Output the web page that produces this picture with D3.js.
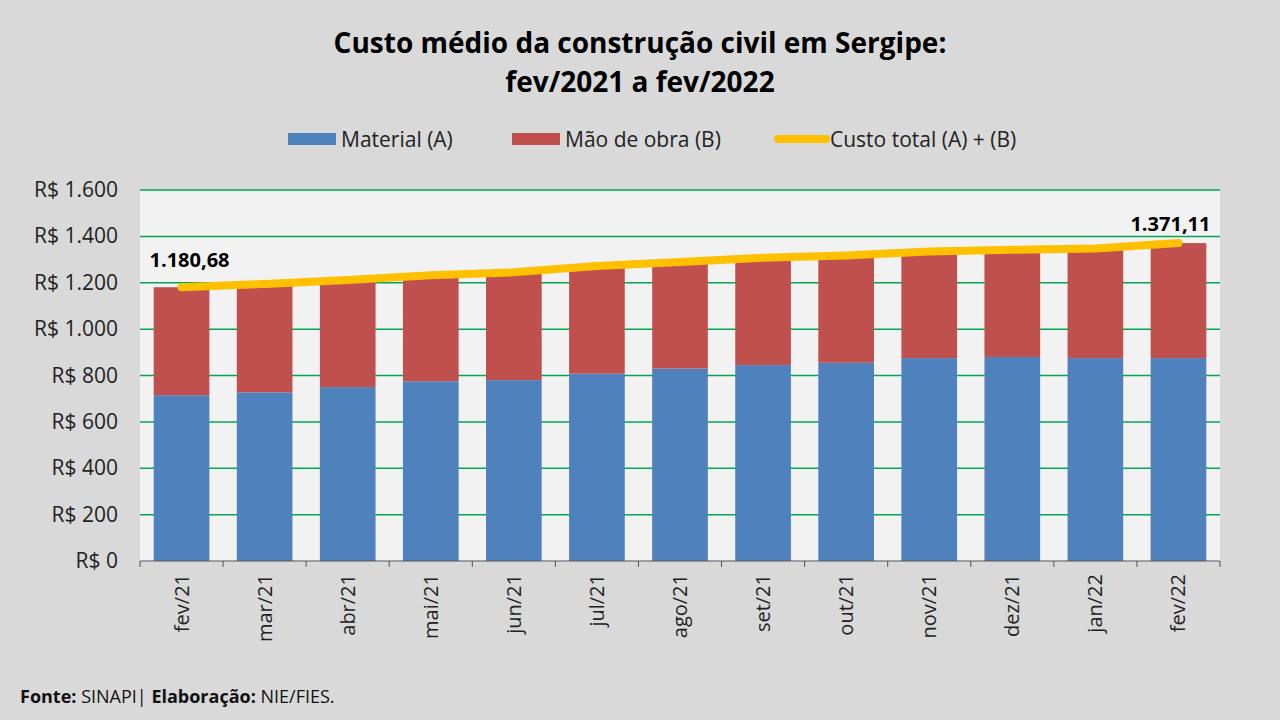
<!DOCTYPE html>
<html><head><meta charset="utf-8">
<script src="https://cdn.jsdelivr.net/npm/d3@7"></script>
<style>body{margin:0;background:#d9d9d9}svg{display:block;font-family:"Open Sans",sans-serif}</style>
</head><body><svg width="1280" height="720"></svg>
<script>
const months = ["fev/21","mar/21","abr/21","mai/21","jun/21","jul/21","ago/21","set/21","out/21","nov/21","dez/21","jan/22","fev/22"];
const material = [715, 727, 750, 775, 780, 808, 830, 845, 855, 875, 880, 875, 875];
const total = [1180.68, 1195, 1212, 1232, 1245, 1272, 1290, 1308, 1318, 1335, 1342, 1348, 1371.11];
const yTicks = [0, 200, 400, 600, 800, 1000, 1200, 1400, 1600];

const svg = d3.select("svg");
const m = {l: 140, r: 1220, t: 190, b: 561};
const x = d3.scaleBand().domain(months).range([m.l, m.r]).paddingInner(0.33).paddingOuter(0.165);
const y = d3.scaleLinear().domain([0, 1600]).range([m.b, m.t]);
const fmt = v => "R$ " + d3.format(",")(v).replace(/,/g, ".");
const fmtDec = v => d3.format(",.2f")(v).replace(/,/g, "#").replace(".", ",").replace(/#/g, ".");

svg.append("rect").attr("width", 1280).attr("height", 720).attr("fill", "#d9d9d9");
svg.append("rect").attr("x", m.l).attr("y", m.t).attr("width", m.r - m.l).attr("height", m.b - m.t).attr("fill", "#f2f2f2");

svg.append("text").attr("x", 640).attr("y", 53).attr("text-anchor", "middle").attr("font-size", 28).attr("font-weight", "bold").text("Custo médio da construção civil em Sergipe:");
svg.append("text").attr("x", 640).attr("y", 92).attr("text-anchor", "middle").attr("font-size", 28).attr("font-weight", "bold").text("fev/2021 a fev/2022");

// grid
svg.append("g").selectAll("line").data(yTicks.slice(1)).enter().append("line")
  .attr("x1", m.l).attr("x2", m.r).attr("y1", d => y(d)).attr("y2", d => y(d))
  .attr("stroke", "#00a650").attr("stroke-width", 1.5);

// y axis labels
svg.append("g").selectAll("text").data(yTicks).enter().append("text")
  .attr("x", 118).attr("y", d => y(d) + 7).attr("text-anchor", "end").attr("font-size", 21).attr("fill", "#222").text(fmt);

// bars
svg.append("g").selectAll("rect").data(months).enter().append("rect")
  .attr("x", d => x(d)).attr("width", x.bandwidth())
  .attr("y", (d, i) => y(material[i])).attr("height", (d, i) => y(0) - y(material[i]))
  .attr("fill", "#4f81bd");
svg.append("g").selectAll("rect").data(months).enter().append("rect")
  .attr("x", d => x(d)).attr("width", x.bandwidth())
  .attr("y", (d, i) => y(total[i])).attr("height", (d, i) => y(material[i]) - y(total[i]))
  .attr("fill", "#c0504d");

// axis line
svg.append("line").attr("x1", m.l).attr("x2", m.r).attr("y1", m.b).attr("y2", m.b).attr("stroke", "#555");
svg.append("g").selectAll("line").data(d3.range(months.length + 1)).enter().append("line")
  .attr("x1", i => m.l + i * x.step()).attr("x2", i => m.l + i * x.step())
  .attr("y1", m.b).attr("y2", m.b + 6).attr("stroke", "#555");

// line
const line = d3.line().x((d, i) => x(months[i]) + x.bandwidth() / 2).y(d => y(d));
svg.append("path").datum(total).attr("d", line).attr("fill", "none")
  .attr("stroke", "#ffc000").attr("stroke-width", 8).attr("stroke-linecap", "round");

// end labels
svg.append("text").attr("x", x(months[0]) + x.bandwidth() / 2 + 8).attr("y", y(total[0]) - 20)
  .attr("text-anchor", "middle").attr("font-size", 20).attr("font-weight", "bold").text(fmtDec(total[0]));
svg.append("text").attr("x", x(months[12]) + x.bandwidth() / 2 - 8).attr("y", y(total[12]) - 12)
  .attr("text-anchor", "middle").attr("font-size", 20).attr("font-weight", "bold").text(fmtDec(total[12]));

// x labels
svg.append("g").selectAll("text").data(months).enter().append("text")
  .attr("transform", d => `translate(${x(d) + x.bandwidth() / 2 + 7},574) rotate(-90)`)
  .attr("text-anchor", "end").attr("font-size", 20).attr("fill", "#222").text(d => d);

// legend
const lg = svg.append("g").attr("font-size", 21).attr("fill", "#222");
lg.append("rect").attr("x", 288).attr("y", 133).attr("width", 48).attr("height", 12).attr("fill", "#4f81bd");
lg.append("text").attr("x", 341).attr("y", 147).text("Material (A)");
lg.append("rect").attr("x", 512).attr("y", 133).attr("width", 48).attr("height", 12).attr("fill", "#c0504d");
lg.append("text").attr("x", 565).attr("y", 147).text("Mão de obra (B)");
lg.append("line").attr("x1", 778).attr("x2", 826).attr("y1", 139).attr("y2", 139).attr("stroke", "#ffc000").attr("stroke-width", 8).attr("stroke-linecap", "round");
lg.append("text").attr("x", 830).attr("y", 147).text("Custo total (A) + (B)");

// source
const src = svg.append("text").attr("x", 20).attr("y", 703).attr("font-size", 18).attr("fill", "#111");
src.append("tspan").attr("font-weight", "bold").text("Fonte: ");
src.append("tspan").text("SINAPI| ");
src.append("tspan").attr("font-weight", "bold").text("Elaboração: ");
src.append("tspan").text("NIE/FIES.");
</script></body></html>
